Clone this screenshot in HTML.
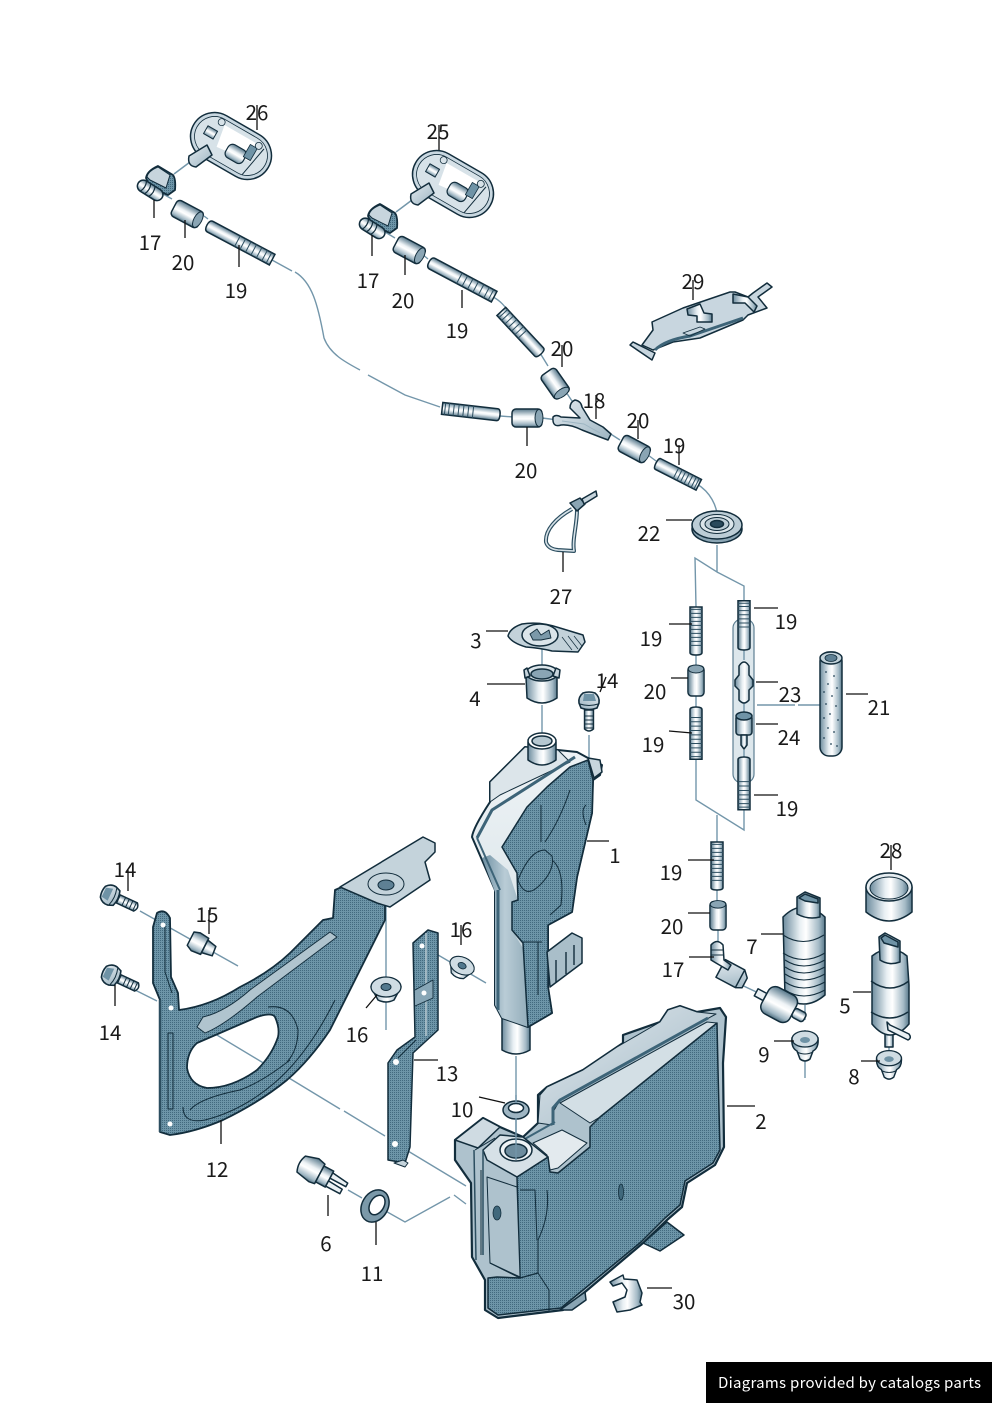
<!DOCTYPE html>
<html><head><meta charset="utf-8"><style>
html,body{margin:0;padding:0;background:#fff;width:992px;height:1403px;overflow:hidden}
svg{display:block;position:absolute;left:0;top:0}
.t text{font-family:"Noto Sans CJK SC","Liberation Sans",sans-serif;font-size:20.5px;fill:#1a1a1a;text-anchor:middle}
.l path{fill:none;stroke:#111;stroke-width:1.3}
.b path{fill:none;stroke:#7396aa;stroke-width:1.4}
.o *{stroke:#122d3c;stroke-width:1.5;stroke-linejoin:round}
.n{vector-effect:non-scaling-stroke}
</style></head><body>
<svg width="992" height="1403" viewBox="0 0 992 1403" xmlns="http://www.w3.org/2000/svg">
<defs>
<pattern id="s" width="2" height="2" patternUnits="userSpaceOnUse"><rect width="2" height="2" fill="#6d95a8"/><rect width="1" height="1" fill="#436a7f"/></pattern>
<linearGradient id="v" x1="0" y1="0" x2="0" y2="1"><stop offset="0" stop-color="#56778a"/><stop offset=".4" stop-color="#eef3f6"/><stop offset=".55" stop-color="#fff"/><stop offset=".85" stop-color="#9fb6c3"/><stop offset="1" stop-color="#4f6f80"/></linearGradient>
<linearGradient id="h" x1="0" y1="0" x2="1" y2="0"><stop offset="0" stop-color="#6d8c9e"/><stop offset=".4" stop-color="#e8eff3"/><stop offset=".55" stop-color="#fff"/><stop offset=".85" stop-color="#a4bac6"/><stop offset="1" stop-color="#5a7a8c"/></linearGradient>
<linearGradient id="d" x1="0" y1="0" x2="1" y2="1"><stop offset="0" stop-color="#e3eaef"/><stop offset="1" stop-color="#9db5c2"/></linearGradient>
<linearGradient id="e" x1="0" y1="0" x2="1" y2="0"><stop offset="0" stop-color="#6e90a3"/><stop offset=".5" stop-color="#b9ccd6"/><stop offset="1" stop-color="#93adba"/></linearGradient>
<linearGradient id="w" x1="0" y1="0" x2="0" y2="1"><stop offset="0" stop-color="#eef3f6"/><stop offset=".55" stop-color="#dfe8ec"/><stop offset="1" stop-color="#a7bdc9"/></linearGradient>

<g id="hs"><path class="n" d="M3,-6H60V6H3Q0,6 0,0Q0,-6 3,-6Z" fill="url(#v)" stroke="#122d3c" stroke-width="1.5"/>
<path class="n" d="M28,-6V6M33,-6V6M38,-6V6M43,-6V6M48,-6V6M53,-6V6M57,-6V6" stroke="#2c4e60" stroke-width="1" fill="none"/></g>
<g id="hf"><path class="n" d="M3,-6H60V6H3Q0,6 0,0Q0,-6 3,-6Z" fill="url(#v)" stroke="#122d3c" stroke-width="1.5"/>
<path class="n" d="M12,-6V6M17,-6V6M22,-6V6M27,-6V6M32,-6V6M37,-6V6M42,-6V6M47,-6V6M52,-6V6M57,-6V6" stroke="#2c4e60" stroke-width="1" fill="none"/></g>
<g id="cp"><rect x="0" y="-9" width="30" height="18" rx="4" fill="url(#v)" stroke="#122d3c" stroke-width="1.5"/><ellipse cx="27" cy="0" rx="4" ry="8.5" fill="#8aa5b4" stroke="#122d3c" stroke-width="1"/></g>
<g id="bt"><path d="M7,-4.5 L26,-4.5 Q30,0 26,4.5 L7,4.5Z" fill="url(#v)" stroke="#122d3c" stroke-width="1.4"/>
<path d="M13,-5V5M17,-5V5M21,-5V5M25,-5V5" stroke="#122d3c" fill="none"/>
<path d="M-10,-6 Q-6,-11 0,-10 L5,-8 Q8,0 5,8 L0,10 Q-6,11 -10,6 Q-12,0 -10,-6Z" fill="url(#d)" stroke="#122d3c" stroke-width="1.6"/><path d="M1,-9 Q4,0 1,9" stroke="#122d3c" fill="none"/><path d="M-9,-5 L-2,-7 L-2,6 L-9,5Z" fill="#6f93a6"/></g>
<g id="nt"><path d="M-15,-3 Q0,-14 15,-3 L8,10 Q0,14 -8,10Z" fill="url(#h)" stroke="#122d3c" stroke-width="1.5"/><ellipse cx="0" cy="-3" rx="15" ry="10" fill="#cfdce3" stroke="#122d3c" stroke-width="1.3"/><ellipse cx="0" cy="-3" rx="5" ry="3.5" fill="#52788d" stroke="#122d3c" stroke-width="1"/></g>
<g id="gr"><path d="M-13,-5 Q-14,5 -8,8 L-5,16 Q0,20 5,16 L8,8 Q14,5 13,-5Z" fill="url(#h)" stroke="#122d3c" stroke-width="1.5"/><ellipse cx="0" cy="-4" rx="13" ry="8" fill="#cfdce3" stroke="#122d3c" stroke-width="1.3"/><ellipse cx="0" cy="-3" rx="5" ry="3" fill="#6f93a6"/><path d="M-8,9 Q0,13 8,9" fill="none" stroke="#122d3c"/></g>

<g id="as">
<path d="M190,162 L174,174" fill="none" style="stroke:#7396aa"/>
<g transform="translate(231,146) rotate(30)">
<rect x="-43" y="-24" width="86" height="48" rx="24" fill="#c9d8e1"/>
<rect x="-39" y="-20" width="78" height="40" rx="20" fill="#d7e2e8" style="stroke-width:.8"/>
<path d="M-16,-15 L20,-15 L24,4 L-12,8Z" fill="#fff" style="stroke:none"/>
<rect x="-30" y="-6" width="11" height="9" fill="url(#v)" style="stroke-width:1"/>
<rect x="-2" y="-3" width="20" height="15" rx="5" fill="url(#v)" style="stroke-width:1.2"/>
<rect x="16" y="-11" width="8" height="14" fill="#6f93a6" style="stroke-width:.8"/>
<circle cx="-20" cy="-16" r="3.5" fill="#d7e2e8" style="stroke-width:.8"/>
<circle cx="24" cy="-14" r="3.5" fill="#d7e2e8" style="stroke-width:.8"/>
<path d="M30,-14 L24,19" fill="none" style="stroke-width:1"/>
</g>
<path d="M189,156 L207,145 L212,155 L196,167 Q187,166 189,156Z" fill="url(#d)"/>
<path d="M146,178 Q147,171 158,166 L173,175 Q176,179 175,190 L168,195 L150,187Z" fill="url(#s)" style="stroke-width:1.8"/>
<path d="M147,177 Q148,171 158,167 L170,175 L166,188 L150,180Z" fill="#c7d5dd" style="stroke-width:1"/>
<g transform="translate(140,184) rotate(32)">
<rect x="-2" y="-6" width="28" height="12" rx="6" fill="url(#v)"/>
<path d="M4,-6 Q7,0 4,6M9,-6 Q12,0 9,6M14,-6 Q17,0 14,6" fill="none" style="stroke-width:1.2"/>
</g>
</g>
</defs>

<!-- construction lines -->
<g class="b">
<path d="M163,194 L172,199M204,216 L208,219"/>
<path d="M272,260 L292,271M295,272 C312,282 318,305 324,338 C330,354 345,362 360,370M368,375 L405,395 L440,407"/>
<path d="M385,232 L395,238M422,254 L428,259M493,297 C503,302 507,310 512,316M540,353 L548,366M566,392 L574,404"/>
<path d="M500,416 L514,417M542,418 L558,420"/>
<path d="M606,431 L620,440M648,455 L656,461M697,484 C710,492 717,505 718,520"/>
<path d="M717,545 L717,572 L695,558 L696,607M717,572 L744,586 L744,601"/>
<path d="M696,655 V665M696,696 V707M696,759 V800 L744,830 V810M717,815 V842M717,890 V902M718,930 V942"/>
<path d="M757,705 H795M798,705 H820"/>
<path d="M542,640 V668M542,705 V735M589,735 V772"/>
<path d="M516,1056 V1150"/>
<path d="M140,911 L238,966M135,990 L157,1001M386,880 V1030M421,945 L486,983"/>
<path d="M172,1008 L280,1073M284,1075 L340,1109M344,1111 L385,1136M398,1145 L466,1186"/>
<path d="M348,1190 L362,1198M375,1205 L405,1222 L450,1197 M454,1195 L466,1204"/>
<path d="M735,982 L765,996M805,1005 V1020M805,1030 V1078M889,1047 V1065"/>
</g>

<!-- sleeve -->
<rect x="733" y="619" width="21" height="164" rx="9" fill="#dde7ec" stroke="#5d7f92" stroke-width="1.2"/>
<path d="M744,650 V660M744,700 V712M744,750 V758" stroke="#7396aa" stroke-width="1.4" fill="none"/>

<!-- nozzle assemblies -->
<g class="o"><use href="#as"/><use href="#as" x="222" y="38"/></g>

<!-- hoses -->
<use href="#hs" transform="translate(207,225) rotate(28) scale(1.23,1)"/>
<use href="#hs" transform="translate(429,262) rotate(28) scale(1.23,1)"/>
<use href="#hs" transform="translate(541,354) rotate(227) scale(.97,1)"/>
<use href="#hs" transform="translate(500,415) rotate(186.5) scale(.97,1)"/>
<use href="#hs" transform="translate(656,463) rotate(27) scale(.8,1)"/>
<use href="#hf" transform="translate(696,655) rotate(270) scale(.8,1)"/>
<use href="#hf" transform="translate(696,707) rotate(90) scale(.87,1)"/>
<use href="#hs" transform="translate(744,650) rotate(270) scale(.82,1)"/>
<use href="#hs" transform="translate(744,757) rotate(90) scale(.88,1)"/>
<use href="#hf" transform="translate(717,890) rotate(270) scale(.8,1)"/>

<!-- couplings -->
<use href="#cp" transform="translate(174,207) rotate(28)"/>
<use href="#cp" transform="translate(396,243) rotate(28)"/>
<use href="#cp" transform="translate(547,372) rotate(55) scale(.95,1)"/>
<use href="#cp" transform="translate(512,418)"/>
<use href="#cp" transform="translate(621,442) rotate(28)"/>
<use href="#cp" transform="translate(696,696) rotate(270) scale(1,.9)"/>
<use href="#cp" transform="translate(718,930) rotate(270) scale(.95,.9)"/>

<!-- 18 Y-piece -->
<g class="o">
<path d="M553,417 Q556,414 561,417 L580,418 L570,408 Q570,402 575,400 Q581,401 582,407 L590,420 L603,427 L611,434 L608,440 L600,437 L582,430 Q570,424 561,425 Q552,428 553,417Z" fill="url(#d)"/>
<path d="M562,421 L584,424 L600,433" fill="none" style="stroke:#9db5c2;stroke-width:1"/>
</g>

<!-- 22 grommet -->
<g class="o">
<ellipse cx="717" cy="529" rx="25" ry="14" fill="#8aa5b4"/>
<ellipse cx="717" cy="525" rx="25" ry="14" fill="#bccdd6"/>
<ellipse cx="717" cy="524" rx="17" ry="9.5" fill="#dbe5ea" style="stroke-width:1"/>
<ellipse cx="717" cy="524" rx="12" ry="6.5" fill="#bccdd6" style="stroke-width:1"/>
<ellipse cx="717" cy="524" rx="6.5" ry="3.5" fill="#2a4a5c"/>
</g>

<!-- 27 cable tie -->
<g class="o">
<path d="M572,509 C556,518 545,530 546,542 Q548,549 558,550 L574,551 C572,540 577,525 577,510" fill="none" style="stroke:#2c4e60;stroke-width:4"/>
<path d="M572,509 C556,518 545,530 546,542 Q548,549 558,550 L574,551 C572,540 577,525 577,510" fill="none" style="stroke:#d7e2e8;stroke-width:1.6"/>
<path d="M570,503 L580,498 L585,504 L577,511Z" fill="#8aa5b4"/>
<path d="M582,499 L596,491 L597,496 L584,504Z" fill="#c7d5dd"/>
</g>

<!-- 29 -->
<g class="o">
<path d="M642,345 L653,330 L652,322 L683,308 L730,292 L735,292 L748,297 L753,293 L767,283 L772,287 L758,297 L767,308 L748,315 L743,320 L700,338 L673,342 L653,350Z" fill="#c8d6df"/>
<path d="M630,345 L633,342 L655,353 L652,360Z" fill="#c8d6df"/>
<path d="M655,350 Q665,340 690,336 L743,318" fill="none" style="stroke:#3d6478;stroke-width:3"/>
<path d="M687,309 L700,304 L704,313 L712,314 L712,322 L697,322 L697,316 L688,315Z" fill="url(#h)"/>
<path d="M733,294 L748,297 L757,306 L754,312 L745,303 L733,303Z" fill="url(#h)"/>
<path d="M683,333 L700,327 L705,329 L690,336Z" fill="none" style="stroke-width:.8"/>
</g>

<!-- 21 tube -->
<g class="o">
<rect x="820" y="652" width="22" height="104" rx="9" fill="url(#h)"/>
<ellipse cx="831" cy="658" rx="11" ry="6" fill="#c3d3db"/>
<ellipse cx="831" cy="658" rx="6" ry="3.5" fill="#5e8094" style="stroke-width:.8"/>
</g>
<g fill="#234357"><circle cx="826" cy="672" r=".9"/><circle cx="834" cy="676" r=".9"/><circle cx="828" cy="684" r=".9"/><circle cx="837" cy="688" r=".9"/><circle cx="824" cy="692" r=".9"/><circle cx="832" cy="696" r=".9"/><circle cx="826" cy="704" r=".9"/><circle cx="836" cy="706" r=".9"/><circle cx="830" cy="714" r=".9"/><circle cx="824" cy="718" r=".9"/><circle cx="838" cy="720" r=".9"/><circle cx="828" cy="728" r=".9"/><circle cx="834" cy="732" r=".9"/><circle cx="824" cy="738" r=".9"/><circle cx="831" cy="744" r=".9"/><circle cx="837" cy="746" r=".9"/></g>

<!-- 23 + 24 -->
<g class="o">
<path d="M739,666 Q744,658 749,666 V675 L753,680 V686 L749,690 V700 Q744,706 739,700 V690 L735,686 V680 L739,675Z" fill="url(#h)"/>
<rect x="736" y="715" width="16" height="20" rx="3" fill="url(#h)"/>
<ellipse cx="744" cy="716" rx="8" ry="4" fill="#6f93a6"/>
<path d="M741,735 H747 V745 L744,749 L741,745Z" fill="url(#h)"/>
</g>

<!-- 3 cap -->
<g class="o">
<path d="M508,636 Q510,628 522,624 Q540,621 560,628 L583,635 L585,642 L578,652 L552,651 Q540,648 526,647 Q512,643 508,636Z" fill="#c3d2da"/>
<ellipse cx="540" cy="635" rx="18" ry="11" fill="#dbe5ea"/>
<path d="M530,634 L537,629 L541,635 L549,630 L551,638 L541,640 L533,640Z" fill="#7b99a9" style="stroke-width:.9"/>
<path d="M562,637 L572,650M568,636 L578,649M574,636 L582,646" fill="none" style="stroke-width:.7"/>
</g>
<!-- 4 strainer -->
<g class="o">
<path d="M526,677 H557 L557,698 Q542,708 527,698Z" fill="url(#h)"/>
<ellipse cx="542" cy="673" rx="16" ry="8" fill="#dbe5ea"/>
<ellipse cx="542" cy="674" rx="11" ry="5" fill="#8aa5b4"/>
<path d="M524,670 L527,668 L530,676 L525,678Z M560,670 L556,668 L553,676 L559,678Z" fill="#c7d5dd"/>
</g>
<use href="#bt" transform="translate(589,703) rotate(90)"/>

<!-- 1 reservoir -->
<g class="o">
<path d="M502,1018 H530 V1050 Q516,1058 502,1050Z" fill="url(#h)"/>
<path d="M490,782 L525,747 L558,750 L577,752 L588,758 L602,765 L600,775 L593,780 L592,813 L577,877 L572,912 L548,925 L548,987 L552,1013 L528,1027 L502,1018 L495,1005 L495,890 L472,837 Q473,828 490,802Z" fill="url(#w)" style="stroke-width:2"/>
<path d="M490,802 L490,782 L525,747 L558,750 L570,762 L500,795Z" fill="#dce5ea" style="stroke-width:1"/>
<path d="M495,892 V1005 L502,1018 L528,1027 L524,950 L512,930 L512,902 L518,900 L508,870 L490,855 L482,858Z" fill="url(#e)" style="stroke:none"/>
<path d="M502,847 L527,807 L547,787 L570,767 L588,760 L593,780 L592,813 L577,877 L572,912 L548,925 L548,987 L552,1013 L528,1027 L523,943 L512,930 L512,902 L518,900 L517,873Z" fill="url(#s)"/>
<path d="M477,838 L492,810 L575,757" fill="none" style="stroke:#3d6478;stroke-width:3"/>
<path d="M477,838 L500,890" fill="none" style="stroke:#3d6478;stroke-width:2"/>
<path d="M498,890 V1010" fill="none" style="stroke:#3d6478;stroke-width:3"/>
<path d="M541,805 V842M545,842 Q560,820 570,790M518,880 Q530,850 545,850 L552,856 Q555,870 540,885 Q525,900 518,880M552,860 Q565,870 561,905 L550,915M538,942 V995M523,942 H542M586,805 Q580,810 586,825" fill="none" style="stroke-width:1"/>
<path d="M547,952 L572,933 L582,938 L582,963 L550,987Z" fill="#a9bec9"/>
<path d="M556,960 V982M566,952 V974M574,945 V965" fill="none" style="stroke-width:1.4"/>
<path d="M588,758 L600,760 L602,772 L594,778Z" fill="#c7d5dd"/>
<path d="M528,742 V760 Q542,770 556,760 V742Z" fill="url(#h)"/>
<ellipse cx="542" cy="741" rx="14" ry="8" fill="#fff"/>
<ellipse cx="542" cy="741" rx="10" ry="5" fill="#b6c8d1"/>
</g>

<!-- 12 bracket -->
<g class="o">
<path fill-rule="evenodd" d="M153,927 L157,913 Q165,908 170,918 L171,977 L178,993 L179,1010 Q210,1006 240,987 Q270,972 290,953 L323,920 L333,918 L335,890 L385,868 L385,910 L385,920 L330,1030 Q310,1060 287,1080 Q260,1102 223,1120 Q195,1132 170,1135 L160,1132 L160,1000 L153,983Z M187,1068 Q187,1052 197,1043 L257,1017 Q272,1012 275,1017 Q280,1028 278,1037 Q272,1055 257,1070 Q232,1088 207,1088 Q190,1085 187,1068Z" fill="url(#s)" style="stroke-width:1.8"/>
<path d="M340,887 L423,837 L435,843 L435,852 L425,862 L430,880 L390,907 L377,903Z" fill="#c4d3db"/>
<path d="M197,1027 L203,1017 Q225,1012 250,990 L330,932 L337,937 L257,997 Q225,1025 205,1033Z" fill="#b0c4ce" style="stroke-width:.9"/>
<ellipse cx="386" cy="884" rx="18" ry="11" fill="#c4d3db" style="stroke-width:1"/>
<ellipse cx="386" cy="885" rx="8" ry="5" fill="#5e8094" style="stroke-width:1"/>
<path d="M168,1033 H173 V1109 H168Z" fill="none" style="stroke-width:1"/>
<path d="M165,925 V972 L172,993" fill="none" style="stroke-width:1"/>
<path d="M160,1000 V1132" fill="none" style="stroke:#2c4e60;stroke-width:2.5"/>
<path d="M183,1107 Q183,1124 205,1120 Q245,1110 280,1078 Q310,1050 335,1000" fill="none" style="stroke-width:1"/>
<path d="M190,1110 Q200,1098 240,1090 Q262,1082 290,1060" fill="none" style="stroke-width:1"/>
<path d="M287,1062 Q298,1050 298,1030 Q292,1004 268,1007" fill="none" style="stroke-width:1"/>
</g>
<circle cx="171" cy="1008" r="2.5" fill="#fff"/><circle cx="163" cy="925" r="2.5" fill="#fff"/><circle cx="170" cy="1124" r="2.5" fill="#fff"/>
<!-- 13 -->
<g class="o">
<path d="M413,943 L428,930 L438,933 L438,1030 L413,1053 L410,1147 L405,1163 L388,1160 L388,1063 L397,1050 L415,1037Z" fill="url(#s)"/>
<path d="M394,1163 L403,1160 L408,1163 L405,1167Z" fill="#c4d3db" style="stroke-width:1"/>
<path d="M398,1058 L416,1040" fill="none" style="stroke-width:1"/>
<path d="M426,933 V1036" fill="none" style="stroke:#b4c6cf;stroke-width:1.5"/>
<path d="M415,990 L433,980 V998 L415,1006" fill="#87a6b6" style="stroke-width:.9"/>
</g>
<circle cx="422" cy="946" r="2.5" fill="#fff"/><circle cx="395" cy="1144" r="3" fill="#fff"/><circle cx="396" cy="1062" r="3" fill="#fff"/><circle cx="424" cy="993" r="2.5" fill="#fff"/>

<!-- bolts etc. -->
<use href="#bt" transform="translate(112,896) rotate(25)"/>
<use href="#bt" transform="translate(113,976) rotate(25)"/>
<g class="o" transform="translate(202,945) rotate(27)">
<path d="M-13,-8 L-7,-10 L3,-9 L3,9 L-7,10 L-13,7Z" fill="url(#v)"/>
<path d="M3,-7 L13,-5 L14,5 L3,7Z" fill="url(#v)"/>
</g>
<use href="#nt" transform="translate(386,990)"/>
<use href="#nt" transform="translate(461,968) rotate(25) scale(.85)"/>

<!-- 6 -->
<g class="o" transform="translate(318,1173) rotate(28)">
<path d="M-19,-9 Q-23,0 -19,9 L-4,12 L2,11 L2,-11 L-6,-13Z" fill="url(#v)"/>
<rect x="2" y="-9" width="11" height="18" fill="url(#v)"/>
<path d="M13,-7 L31,-5 V-1 L13,-1Z M13,2 L29,3 V8 L13,8Z" fill="#eaf0f3"/>
</g>
<!-- 11 ring -->
<g class="o"><ellipse cx="375" cy="1206" rx="13" ry="17" transform="rotate(30 375 1206)" fill="#7b99a9"/><ellipse cx="377" cy="1205" rx="7" ry="10.5" transform="rotate(30 377 1205)" fill="#fff"/></g>
<!-- 10 ring -->
<g class="o"><ellipse cx="516" cy="1110" rx="13" ry="9" fill="#9fb6c3"/><ellipse cx="516" cy="1108" rx="7.5" ry="4.5" fill="#fff"/></g>

<!-- 2 tank -->
<g class="o">
<path d="M643,1243 L667,1222 L684,1235 L660,1251Z" fill="url(#s)"/>
<path d="M455,1140 L483,1118 L500,1127 L523,1137 L538,1123 L538,1095 L547,1087 L583,1070 L617,1047 L623,1043 L623,1035 L660,1022 L668,1010 L680,1006 L697,1012 L720,1008 L726,1017 L723,1063 L724,1147 L715,1165 L687,1183 L682,1207 L667,1220 L643,1243 L585,1292 L563,1310 L498,1318 L485,1310 L485,1280 L472,1257 L471,1183 L455,1160Z" fill="#aec2cd" style="stroke-width:2.2"/>
<path d="M560,1310 L585,1292 L586,1300 L572,1310Z" fill="#8aa5b4"/>
<path d="M540,1095 L547,1087 L583,1070 L617,1047 L660,1022 L668,1010 L680,1006 L697,1012 L716,1014 L560,1100 L553,1112 L552,1125 L538,1123Z" fill="url(#d)" style="stroke-width:1"/>
<path d="M560,1103 L707,1022 L717,1023 L600,1117 L590,1123Z" fill="#d3dfe5" style="stroke-width:1"/>
<path d="M553,1125 L553,1108 L560,1100 L708,1018" fill="none" style="stroke:#3d6478;stroke-width:3"/>
<path d="M523,1140 L555,1122" fill="none" style="stroke:#3d6478;stroke-width:2"/>
<path d="M533,1143 L562,1130 L587,1143 L558,1168 L550,1170 L547,1155Z" fill="#e3eaee" style="stroke-width:1"/>
<path d="M517,1177 L548,1157 L550,1172 L558,1173 L590,1147 L590,1127 L600,1117 L717,1023 L718,1070 L720,1150 L713,1163 L685,1181 L680,1205 L665,1218 L641,1242 L583,1290 L561,1308 L498,1315 L488,1308 L488,1278 L497,1277 L520,1278 Z" fill="url(#s)"/>
<path d="M475,1150 L495,1138 M481,1170 V1255" fill="none" style="stroke-width:1"/>
<path d="M487,1177 L517,1187 L520,1277 L490,1263Z" fill="#aec2cd" style="stroke-width:1"/>
<path d="M520,1190 H535 L537,1240M538,1240 Q550,1215 547,1190M538,1240 V1273 L549,1290 V1312" fill="none" style="stroke-width:1"/>
<path d="M490,1263 L520,1278 L538,1273" fill="none" style="stroke-width:1.2"/>
<path d="M455,1140 L483,1118 L500,1127 L478,1148Z" fill="#cfdbe2"/>
<path d="M483,1150 L500,1135 L523,1137 L548,1157 L517,1177 L487,1160Z" fill="#d6e1e7"/>
<path d="M474,1150 L476,1260M483,1150 L483,1255" fill="none" style="stroke:#2c4e60;stroke-width:1.5"/>
<ellipse cx="516" cy="1150" rx="16" ry="11" fill="#eef3f6"/><ellipse cx="516" cy="1151" rx="11" ry="7" fill="#6d8c9e"/>
<ellipse cx="621" cy="1192" rx="2.5" ry="8" fill="#40687c" style="stroke-width:.8"/>
<ellipse cx="497" cy="1213" rx="4" ry="7" fill="#40687c" style="stroke-width:.8"/>
</g>
<path d="M516,1095 V1103M516,1118 V1160" stroke="#7396aa" stroke-width="1.4" fill="none"/>

<!-- 30 clip -->
<g class="o">
<path d="M610,1282 L623,1275 L624,1279 L637,1280 L642,1293 L640,1302 L642,1305 L630,1310 L617,1312 L613,1302 L625,1297 L627,1290 L622,1283 L613,1286Z" fill="url(#h)"/>
</g>

<!-- 7 pump -->
<g class="o">
<path d="M783,917 Q803,897 825,917 V995 Q805,1012 785,997Z" fill="url(#h)"/>
<path d="M783,935 Q803,948 824,935M783,953 Q803,966 825,953M785,960 Q803,972 825,960M785,967 Q803,979 825,967M785,974 Q803,986 825,974M785,982 Q803,994 825,982M785,990 Q803,1002 825,990" fill="none" style="stroke-width:1.1"/>
<path d="M797,897 L805,892 L820,898 V917 Q808,920 797,914Z" fill="url(#h)"/>
<path d="M799,898 L805,894 L818,899 V903 L805,901Z" fill="#6f93a6"/>
<g transform="translate(780,1005) rotate(28)">
<rect x="-27" y="-4" width="10" height="8" fill="#eaf0f3"/>
<rect x="-17" y="-15" width="32" height="30" rx="8" fill="url(#v)"/>
<rect x="15" y="-5" width="13" height="10" rx="3" fill="url(#v)"/>
</g>
<g transform="translate(733,975) rotate(28)">
<path d="M-14,-10 L8,-10 L14,-4 V7 L8,10 L-14,10Z" fill="url(#d)"/>
<path d="M8,-10 V10" fill="none"/>
</g>
<path d="M711,945 Q717,938 723,945 L724,960 L731,965 L728,970 L716,963 L711,960Z" fill="url(#h)"/>
<path d="M711,950 H723M711,955 H723" fill="none" style="stroke-width:1"/>
</g>
<use href="#gr" transform="translate(805,1043)"/>

<!-- 28 -->
<g class="o">
<path d="M866,887 V912 Q889,930 912,912 V887Z" fill="url(#h)"/>
<ellipse cx="889" cy="887" rx="23" ry="14" fill="#e6edf1"/>
<ellipse cx="889" cy="888" rx="19" ry="11" fill="url(#h)" style="stroke-width:1"/>
</g>
<!-- 5 -->
<g class="o">
<rect x="885" y="1030" width="8" height="17" fill="url(#h)"/>
<path d="M872,956 Q890,942 907,956 L909,985 V1024 Q890,1046 872,1024 V985Z" fill="url(#h)"/>
<path d="M871,981 Q890,995 909,981M871,1012 Q890,1024 908,1012" fill="none"/>
<path d="M879,937 L885,933 L900,941 V962 Q889,966 880,960Z" fill="url(#h)"/>
<path d="M881,938 L885,935 L898,942 V947 L884,943Z" fill="#6f93a6"/>
<path d="M887,1022 L890,1025 L909,1034 Q912,1038 908,1040 L888,1030Z" fill="#eaf0f3"/>
</g>
<use href="#gr" transform="translate(889,1062) scale(.95)"/>

<!-- leader lines -->
<g class="l"><path d="M257,105V130M439,125V150M154,200V218M185,220V238M239,245V267M372,235V256M405,255V275M462,290V308M562,345V367M596,395V419M638,420V439M679,445V465M527,427V446M666,520H692M563,552V572M693,280V300M486,631H508M487,684H525M600,692L606,677M587,841H609M669,624H692M671,678H688M669,731L692,733M754,608H778M756,682H778M756,724H778M846,694H868M754,795H778M688,860H714M688,913H710M689,957H714M761,934H783M891,845V870M853,992H871M774,1041H794M861,1061H880M128,870V891M209,910V934M115,985V1006M461,925V945M366,1008L377,995M414,1060H438M479,1097L505,1103M221,1120V1144M328,1195V1216M376,1222V1245M727,1106H755M647,1288H672"/></g>

<!-- labels -->
<g class="t">
<text x="257" y="120">26</text><text x="438" y="139">25</text>
<text x="150" y="250">17</text><text x="183" y="270">20</text><text x="236" y="298">19</text>
<text x="368" y="288">17</text><text x="403" y="308">20</text><text x="457" y="338">19</text>
<text x="562" y="356">20</text><text x="594" y="408">18</text><text x="638" y="428">20</text><text x="674" y="453">19</text>
<text x="526" y="478">20</text><text x="649" y="541">22</text><text x="561" y="604">27</text><text x="693" y="289">29</text>
<text x="476" y="648">3</text><text x="475" y="706">4</text><text x="607" y="688">14</text><text x="615" y="863">1</text>
<text x="651" y="646">19</text><text x="655" y="699">20</text><text x="653" y="752">19</text>
<text x="786" y="629">19</text><text x="790" y="702">23</text><text x="789" y="745">24</text><text x="879" y="715">21</text><text x="787" y="816">19</text>
<text x="671" y="880">19</text><text x="672" y="934">20</text><text x="673" y="977">17</text>
<text x="752" y="954">7</text><text x="891" y="858">28</text><text x="845" y="1013">5</text><text x="764" y="1062">9</text><text x="854" y="1084">8</text>
<text x="125" y="877">14</text><text x="207" y="922">15</text><text x="110" y="1040">14</text>
<text x="461" y="937">16</text><text x="357" y="1042">16</text><text x="447" y="1081">13</text><text x="462" y="1117">10</text>
<text x="217" y="1177">12</text><text x="326" y="1251">6</text><text x="372" y="1281">11</text><text x="761" y="1129">2</text><text x="684" y="1309">30</text>
</g>

<rect x="706" y="1362" width="286" height="41" fill="#000"/>
<text x="718" y="1388" font-family="'Noto Sans CJK SC','Liberation Sans',sans-serif" font-size="15" fill="#fff" textLength="263" lengthAdjust="spacing">Diagrams provided by catalogs parts</text>
</svg>
</body></html>
